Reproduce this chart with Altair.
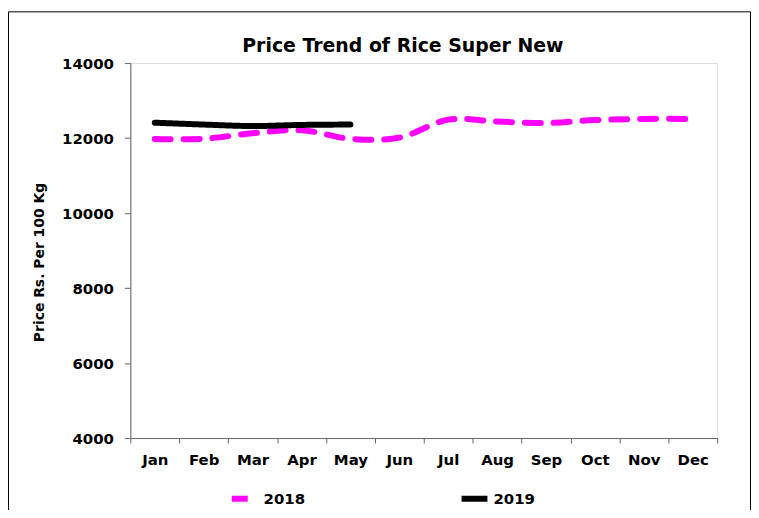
import altair as alt
import pandas as pd

months = ["Jan", "Feb", "Mar", "Apr", "May", "Jun", "Jul", "Aug", "Sep", "Oct", "Nov", "Dec"]
values_2018 = [11975, 11980, 12130, 12210, 11980, 12010, 12490, 12440, 12400, 12480, 12510, 12510]
months_2019 = ["Jan", "Feb", "Mar", "Apr", "May"]
values_2019 = [12410, 12360, 12320, 12350, 12360]
series = ["2018", "2019"]
y_ticks = [4000, 6000, 8000, 10000, 12000, 14000]
chart_title = "Price Trend of Rice Super New"

rows = []
for m, v in zip(months, values_2018):
    rows.append({"Month": m, "Price": v, "Year": "2018"})
for m, v in zip(months_2019, values_2019):
    rows.append({"Month": m, "Price": v, "Year": "2019"})
df = pd.DataFrame(rows)

FONT = "DejaVu Sans"

legend_opts = dict(title=None, orient="none", direction="horizontal",
                   legendX=99, legendY=422, symbolType="stroke",
                   symbolSize=676, symbolStrokeWidth=6, labelFont=FONT,
                   labelFontSize=15, labelFontWeight="bold", labelColor="#000",
                   labelOffset=3, columnPadding=145, padding=0)

lines = alt.Chart(df).mark_line(strokeWidth=6, strokeCap="round", interpolate="catmull-rom").encode(
    x=alt.X("Month:N", sort=months, bandPosition=0.5,
            scale=alt.Scale(type="band", domain=months, paddingInner=0, paddingOuter=0),
            axis=alt.Axis(title=None, tickBand="extent", labelAngle=0, labelFontSize=15,
                          labelFontWeight="bold", labelFont=FONT, labelColor="#000",
                          labelPadding=10, tickSize=5, domainColor="#666", tickColor="#666",
                          grid=False)),
    y=alt.Y("Price:Q", scale=alt.Scale(domain=[4000, 14000], nice=False, zero=False),
            axis=alt.Axis(title="Price Rs. Per 100 Kg", values=y_ticks, format="d",
                          labelFontSize=15,
                          labelFontWeight="bold", labelFont=FONT, labelColor="#000",
                          labelPadding=11, tickSize=6, domainColor="#666", tickColor="#666",
                          grid=False, titleFont=FONT, titleFontSize=14, titleFontWeight="bold",
                          titleColor="#000", titleAngle=270, titleX=-91, titleY=200,
                          titleAlign="center", titleBaseline="middle")),
    color=alt.Color("Year:N", scale=alt.Scale(domain=series, range=["#FF00FF", "#000000"]),
                    legend=alt.Legend(**legend_opts)),
    strokeDash=alt.StrokeDash("Year:N", scale=alt.Scale(domain=series, range=[[16, 13], [1, 0]]),
                              legend=alt.Legend(**legend_opts)),
)

frame = alt.Chart(alt.Data(values=[{}])).mark_rect(filled=False, stroke="#000", strokeWidth=1).encode(
    x=alt.value(-122.5), x2=alt.value(623.5), y=alt.value(-51.5), y2=alt.value(600)
)

title = alt.Chart(alt.Data(values=[{"t": chart_title}])).mark_text(
    font=FONT, fontSize=19, fontWeight="bold", color="#000", align="center", baseline="alphabetic"
).encode(text="t:N", x=alt.value(274), y=alt.value(-11))

chart = alt.layer(frame, title, lines).properties(
    width=590, height=377,
    autosize=alt.AutoSizeParams(type="none"),
    padding={"left": 123, "top": 54, "right": 34, "bottom": 71},
).configure_view(stroke=None).configure(background="white")

chart.save("out.html", embed_options={"renderer": "svg", "actions": False})
